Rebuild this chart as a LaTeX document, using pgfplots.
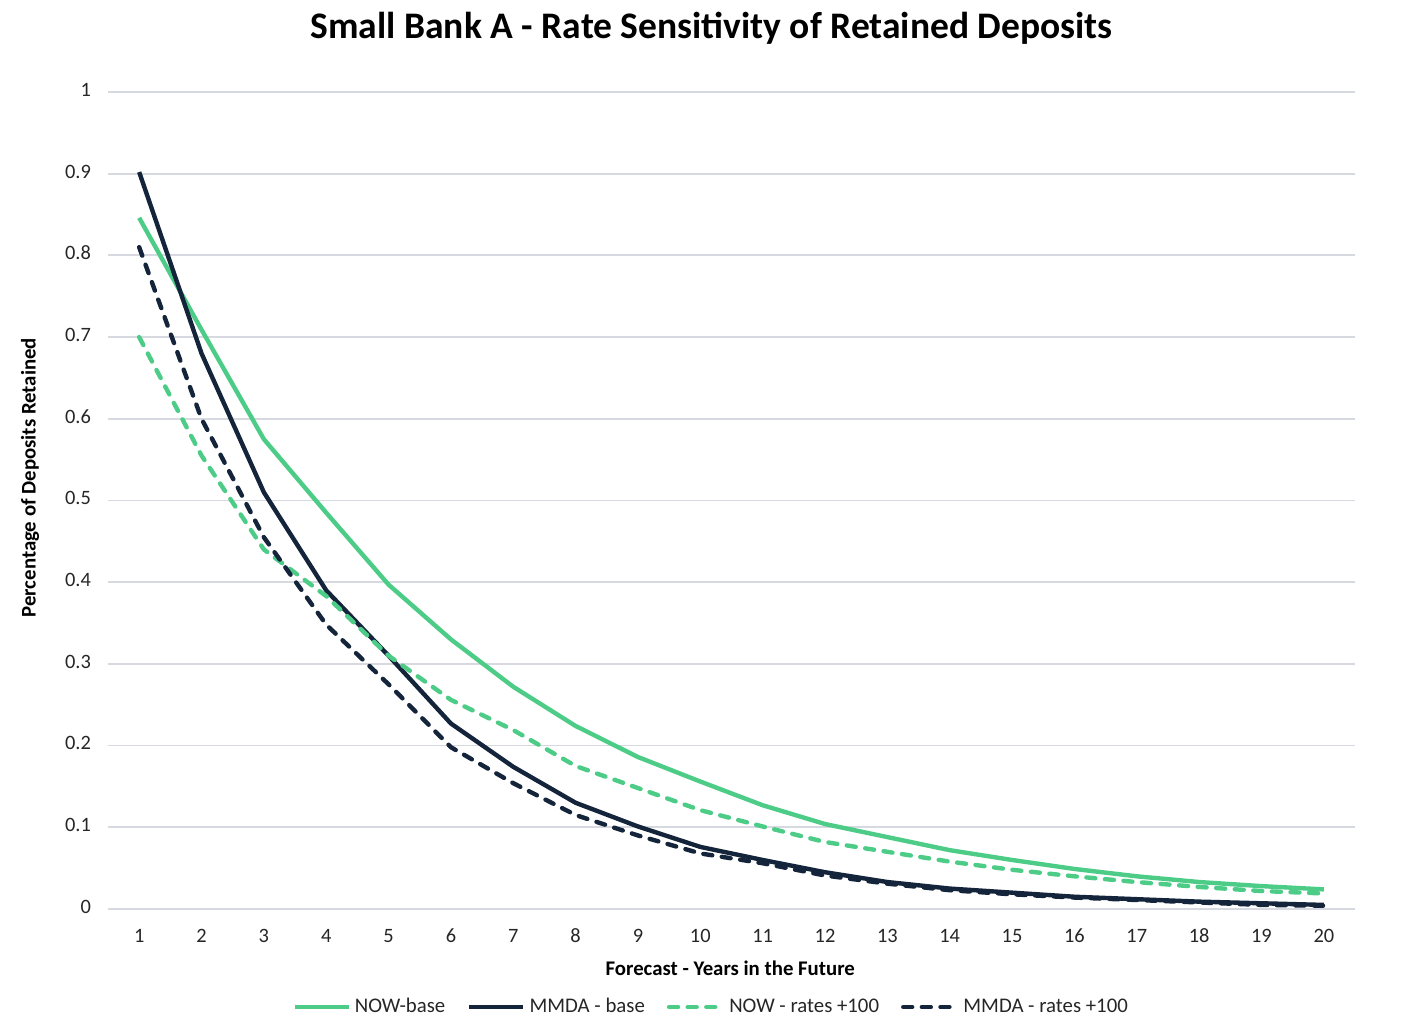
\documentclass[border=0pt]{standalone}
\usepackage{pgfplots}
\pgfplotsset{compat=1.18}
\usepackage{fontspec}
\setmainfont{Carlito}
\definecolor{nowg}{HTML}{4DCC87}
\definecolor{mmda}{HTML}{14243A}
\definecolor{gridc}{HTML}{D6D9DF}
\definecolor{txt}{HTML}{262626}
\begin{document}
\begin{tikzpicture}
\begin{axis}[
  at={(0,0)}, anchor=south west,
  scale only axis, width=623.5pt, height=408.5pt,
  xmin=0.5, xmax=20.5, ymin=0, ymax=1,
  xtick={1,...,20}, ytick={0,0.1,...,1},
  yticklabels={0,0.1,0.2,0.3,0.4,0.5,0.6,0.7,0.8,0.9,1},
  typeset ticklabels with strut,
  /pgf/number format/assume math mode=true,
  ymajorgrids, grid style={gridc, line width=0.9pt},
  axis line style={draw=none},
  tick style={draw=none},
  tick label style={font=\fontsize{10.2}{11}\selectfont, text=txt},
  yticklabel style={xshift=-5pt},
  xticklabel style={yshift=-5.5pt},
  title={\bfseries\fontsize{18.75}{20}\selectfont Small Bank A - Rate Sensitivity of Retained Deposits},
  title style={at={(0.484,1.0636)}, anchor=center, text=black},
  xlabel={\bfseries Forecast - Years in the Future},
  ylabel={\bfseries Percentage of Deposits Retained},
  label style={font=\fontsize{10.4}{11}\selectfont, text=black},
  xlabel style={at={(0.499,-0.072)}, anchor=center},
  ylabel style={at={(-0.0625,0.528)}, anchor=center, rotate=0},
  legend columns=4,
  legend style={at={(0.4845,-0.12)}, anchor=center, draw=none, fill=none,
    font=\fontsize{10.4}{11}\selectfont, text=txt,
    /tikz/every even column/.append style={column sep=9pt}},
  legend image code/.code={\draw[#1] (0pt,0pt) -- (27pt,0pt);},
  every axis plot/.append style={line width=2.2pt, line join=round},
]
\addplot[nowg] coordinates {(1,0.846)(2,0.709)(3,0.575)(4,0.485)(5,0.397)(6,0.330)(7,0.272)(8,0.224)(9,0.186)(10,0.156)(11,0.127)(12,0.104)(13,0.088)(14,0.072)(15,0.060)(16,0.049)(17,0.040)(18,0.033)(19,0.028)(20,0.024)};
\addlegendentry{NOW-base}
\addplot[mmda] coordinates {(1,0.902)(2,0.680)(3,0.510)(4,0.390)(5,0.310)(6,0.227)(7,0.174)(8,0.130)(9,0.101)(10,0.076)(11,0.060)(12,0.045)(13,0.033)(14,0.025)(15,0.020)(16,0.015)(17,0.012)(18,0.009)(19,0.007)(20,0.005)};
\addlegendentry{MMDA - base}
\addplot[nowg, line cap=round, dash pattern=on 4.5pt off 4.8pt] coordinates {(1,0.700)(2,0.555)(3,0.440)(4,0.383)(5,0.310)(6,0.256)(7,0.219)(8,0.175)(9,0.148)(10,0.121)(11,0.101)(12,0.082)(13,0.070)(14,0.058)(15,0.048)(16,0.040)(17,0.033)(18,0.027)(19,0.022)(20,0.019)};
\addlegendentry{NOW - rates +100}
\addplot[mmda, line cap=round, dash pattern=on 4.5pt off 4.8pt] coordinates {(1,0.810)(2,0.600)(3,0.455)(4,0.348)(5,0.275)(6,0.198)(7,0.154)(8,0.115)(9,0.090)(10,0.068)(11,0.056)(12,0.041)(13,0.031)(14,0.023)(15,0.018)(16,0.014)(17,0.011)(18,0.008)(19,0.005)(20,0.004)};
\addlegendentry{MMDA - rates +100}
\end{axis}
\pgfresetboundingbox
\path (-54pt,-61pt) rectangle (657pt,454.5pt);
\end{tikzpicture}
\end{document}
